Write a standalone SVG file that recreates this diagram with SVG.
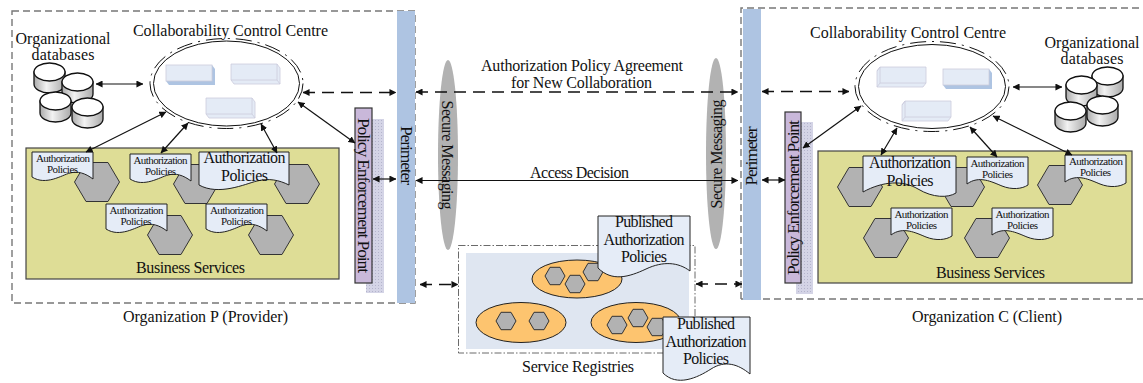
<svg xmlns="http://www.w3.org/2000/svg" xmlns:xlink="http://www.w3.org/1999/xlink" width="1143" height="383" viewBox="0 0 1143 383">
<style>
text{font-family:"Liberation Serif","Times New Roman",serif;fill:#111;text-anchor:middle}
.t15{font-size:16px}.t14{font-size:16px}.t17{font-size:16px}.v{font-size:17.500px}.t10{font-size:11px}
.org{fill:none;stroke:#777;stroke-width:1.4;stroke-dasharray:7 4}
.per{fill:#aec4e2}
.biz{fill:#dedd96;stroke:#444;stroke-width:1.200}
.hex{fill:#b2b2b2;stroke:#333;stroke-width:1}
.doc{fill:#e5ecf7;stroke:#222;stroke-width:1}
.pep{fill:#c9b8da;stroke:#333;stroke-width:1.200}
.sec{fill:#b2b2b2}
.cc{fill:#fff;stroke:#111;stroke-width:1}
.ccd{fill:none;stroke:#111;stroke-width:1;stroke-dasharray:16 6 2 6}
.orange{fill:#fdc46f;stroke:#222;stroke-width:1}
.a{fill:none;stroke:#111;stroke-width:1.200;marker-start:url(#ah);marker-end:url(#ah)}
.d{stroke-dasharray:12 7;stroke-width:1.400}
.cyl{fill:url(#cg);stroke:#111;stroke-width:1.300}
.top{fill:#fff;stroke:#111;stroke-width:1.300}
</style>
<defs>
<marker id="ah" viewBox="0 0 8 8" refX="7.500" refY="4" markerWidth="7" markerHeight="7" orient="auto-start-reverse" markerUnits="userSpaceOnUse"><path d="M0 0L8 4L0 8Z" fill="#111"/></marker>
<linearGradient id="cg" x1="0" x2="1" y1="0" y2="0"><stop offset="0" stop-color="#aaa"/><stop offset=".4" stop-color="#f2f2f2"/><stop offset="1" stop-color="#aaa"/></linearGradient>
<pattern id="dots" width="3" height="3" patternUnits="userSpaceOnUse"><rect width="3" height="3" fill="#d4d4e6"/><rect width="1" height="1" fill="#b4b4cc"/></pattern>
<polygon id="hex" class="hex" points="-22.500,0 -11,-19.500 11,-19.500 22.500,0 11,19.500 -11,19.500"/>
<polygon id="hexs" class="hex" points="-10,0 -5,-8.700 5,-8.700 10,0 5,8.700 -5,8.700"/>
<path id="docS" class="doc" d="M0 0H61V27C53 21 46 19 38 21S14 34 0 25Z"/>
<path id="docM" class="doc" d="M0 0H61V28C55 32 45 33 35 29S12 18 0 27Z"/>
<path id="docL" class="doc" d="M0 0H90V33C80 28 70 26 58 29S20 44 0 33Z"/>
<path id="docP" class="doc" d="M0 0H92V55C80 46 65 45 48 53S14 66 0 52Z"/>
<g id="cyl"><path class="cyl" d="M0 9V21C0 26 7 30 15.500 30S31 26 31 21V9Z"/><ellipse class="top" cx="15.500" cy="9" rx="15.500" ry="9"/></g>
<g id="boxR"><path d="M0 0H46L49 4V20H3L0 16Z" fill="#aec4e2"/><rect width="46" height="16" fill="#e4ebf6" stroke="#ccd" stroke-width=".8"/></g>
<g id="boxG"><path d="M0 0H46L49 4V20H3L0 16Z" fill="#e4ebf6" stroke="#ccd" stroke-width=".8"/><path d="M0 16H46V0M46 16L49 20" fill="none" stroke="#ccd" stroke-width=".8"/></g>
<g id="boxL"><path d="M3 0H49V16L46 20H0V4Z" fill="#e4ebf6" stroke="#ccd" stroke-width=".8"/><path d="M0 4L3 0V16H49M3 16L0 20" fill="none" stroke="#ccd" stroke-width=".8"/></g>
</defs>

<g id="org-provider">
<rect class="org" x="12" y="11" width="403" height="292"/>
<text class="t15" x="205.500" y="322" textLength="165">Organization P (Provider)</text>
</g>
<g id="org-client">
<path class="org" d="M741 299V8H1143M741 299H1143"/>
<text class="t15" x="987" y="322" textLength="150">Organization C (Client)</text>
</g>
<g id="perimeter-left">
<rect class="per" x="397" y="11" width="18" height="292"/>
<text class="v" transform="translate(401 155.500) rotate(90)" textLength="59">Perimeter</text>
</g>
<g id="perimeter-right">
<rect class="per" x="743" y="9" width="18" height="291"/>
<text class="v" transform="translate(757 156) rotate(-90)" textLength="59">Perimeter</text>
</g>
<g id="pep-left">
<rect x="366" y="119" width="18" height="174" fill="url(#dots)"/>
<rect class="pep" x="355" y="108" width="17" height="175"/>
<text class="v" transform="translate(358 195.500) rotate(90)" textLength="155">Policy Enforcement Point</text>
</g>
<g id="pep-right">
<rect x="796" y="122" width="17" height="172" fill="url(#dots)"/>
<rect class="pep" x="785" y="112" width="16" height="171"/>
<text class="v" transform="translate(799 197.500) rotate(-90)" textLength="155">Policy Enforcement Point</text>
</g>
<g id="secure-left">
<ellipse class="sec" cx="448" cy="155" rx="10" ry="95"/>
<text class="t15" transform="translate(442 155) rotate(90)" textLength="109">Secure Messaging</text>
</g>
<g id="secure-right">
<ellipse class="sec" cx="716" cy="153.500" rx="10" ry="95.500"/>
<text class="t15" transform="translate(722 154) rotate(-90)" textLength="109">Secure Messaging</text>
</g>

<g id="databases-left">
<use href="#cyl" x="34" y="63"/><use href="#cyl" x="62" y="73"/><use href="#cyl" x="40" y="92"/><use href="#cyl" x="72" y="98"/>
<text class="t15" x="63" y="44" textLength="95">Organizational</text>
<text class="t15" x="63" y="60" textLength="63">databases</text>
</g>
<g id="databases-right">
<use href="#cyl" x="1092" y="67"/><use href="#cyl" x="1066" y="76"/><use href="#cyl" x="1087" y="96"/><use href="#cyl" x="1055" y="102"/>
<text class="t15" x="1092" y="48" textLength="95">Organizational</text>
<text class="t15" x="1092" y="64" textLength="63">databases</text>
</g>
<g id="ccc-left">
<ellipse class="ccd" cx="226.500" cy="83.500" rx="76.500" ry="45"/>
<ellipse class="cc" cx="226.500" cy="83.500" rx="73" ry="42.500"/>
<use href="#boxR" x="166" y="65"/><use href="#boxG" x="231" y="64"/><use href="#boxG" x="206" y="98"/>
<text class="t15" x="230.500" y="36" textLength="195">Collaborability Control Centre</text>
</g>
<g id="ccc-right">
<ellipse class="ccd" cx="932" cy="86.500" rx="77" ry="45"/>
<ellipse class="cc" cx="932" cy="86.500" rx="73.500" ry="42"/>
<use href="#boxL" x="877" y="67"/><use href="#boxR" x="943" y="69"/><use href="#boxL" x="902" y="101"/>
<text class="t15" x="908" y="38" textLength="196">Collaborability Control Centre</text>
</g>

<g id="business-left">
<rect class="biz" x="26" y="148" width="313" height="131"/>
<use href="#hex" x="97" y="182"/><use href="#hex" x="196" y="184"/><use href="#hex" x="297" y="184"/><use href="#hex" x="170" y="235"/><use href="#hex" x="271" y="235"/>
<use href="#docS" x="32" y="152"/><use href="#docS" x="130" y="154"/><use href="#docL" x="199" y="152"/><use href="#docS" x="106" y="204"/><use href="#docS" x="206" y="204"/>
<g class="t10">
<text x="63" y="162" textLength="54">Authorization</text><text x="62.500" y="173" textLength="31">Policies</text>
<text x="160.500" y="164" textLength="54">Authorization</text><text x="160.500" y="175" textLength="31">Policies</text>
<text x="136.500" y="214" textLength="54">Authorization</text><text x="136" y="225" textLength="31">Policies</text>
<text x="237" y="214" textLength="54">Authorization</text><text x="236.500" y="225" textLength="31">Policies</text>
</g>
<text class="t17" x="244.500" y="163" textLength="82">Authorization</text><text class="t17" x="244.500" y="181" textLength="47">Policies</text>
<text class="t14" x="190.500" y="273" textLength="109">Business Services</text>
</g>
<g id="business-right">
<rect class="biz" x="818" y="151" width="314" height="132"/>
<use href="#hex" x="860" y="187"/><use href="#hex" x="962" y="187"/><use href="#hex" x="1060" y="185"/><use href="#hex" x="886" y="238"/><use href="#hex" x="987" y="238"/>
<path class="doc" transform="translate(863 156)" d="M0 0H93V37C85 42 70 42 55 33S20 25 0 36Z"/>
<use href="#docM" x="967" y="157"/><use href="#docM" x="1065" y="155"/><use href="#docM" x="891" y="208"/><use href="#docM" x="992" y="208"/>
<g class="t10">
<text x="997.500" y="167" textLength="54">Authorization</text><text x="997.500" y="178" textLength="31">Policies</text>
<text x="1096" y="165" textLength="54">Authorization</text><text x="1095.500" y="176" textLength="31">Policies</text>
<text x="921.500" y="218" textLength="54">Authorization</text><text x="921.500" y="229" textLength="31">Policies</text>
<text x="1022.500" y="218" textLength="54">Authorization</text><text x="1022.500" y="229" textLength="31">Policies</text>
</g>
<text class="t17" x="910" y="168" textLength="82">Authorization</text><text class="t17" x="910" y="186" textLength="47">Policies</text>
<text class="t14" x="990.500" y="278" textLength="109">Business Services</text>
</g>

<g id="service-registries">
<rect x="466" y="253" width="223" height="96" fill="#dfe6f1"/>
<rect x="458.500" y="245.500" width="236.500" height="107.500" fill="none" stroke="#444" stroke-width=".8" stroke-dasharray="7 2 1.500 2"/>
<ellipse class="orange" cx="577" cy="279" rx="45" ry="19"/><ellipse class="orange" cx="521" cy="322.500" rx="45" ry="20"/><ellipse class="orange" cx="636" cy="322.500" rx="45" ry="20"/>
<use href="#hexs" x="555" y="276"/><use href="#hexs" x="593" y="272"/><use href="#hexs" x="575" y="284"/><use href="#hexs" x="506" y="321"/><use href="#hexs" x="539" y="321"/><use href="#hexs" x="617" y="325"/><use href="#hexs" x="638" y="318"/><use href="#hexs" x="657" y="327"/>
<text class="t14" x="578" y="372" textLength="112">Service Registries</text>
</g>
<g id="published-1">
<use href="#docP" x="598" y="216"/>
<text class="t14" x="644" y="227" textLength="58">Published</text><text class="t14" x="644" y="245" textLength="81">Authorization</text><text class="t14" x="644" y="262" textLength="46">Policies</text>
</g>
<g id="published-2">
<path class="doc" transform="translate(663 317)" d="M0 0H87V57C75 47 62 43 48 52S14 70 0 56Z"/>
<text class="t14" x="706" y="329" textLength="58">Published</text><text class="t14" x="706" y="347" textLength="81">Authorization</text><text class="t14" x="706" y="364" textLength="46">Policies</text>
</g>

<g id="center-labels">
<text class="t15" x="582" y="71" textLength="202">Authorization Policy Agreement</text>
<text class="t15" x="581.500" y="88" textLength="141">for New Collaboration</text>
<text class="t15" x="579.500" y="178" textLength="99">Access Decision</text>
</g>

<g id="connectors">
<path class="a" d="M96 84H143"/>
<path class="a" d="M86 152L166 112"/>
<path class="a" d="M161 153L188 123"/>
<path class="a" d="M277 153L261 124"/>
<path class="a" d="M355 143L298 102"/>
<path class="a" d="M1013 87H1062"/>
<path class="a" d="M803 148L861 106"/>
<path class="a" d="M881 155L897 128"/>
<path class="a" d="M997 157L970 127"/>
<path class="a" d="M1072 155L993 116"/>
<path class="a d" d="M303 92.500H396"/>
<path class="a d" d="M416 92H738"/>
<path class="a d" d="M762 91.500H849"/>
<path class="a" d="M416 180.500H738"/>
<path class="a" d="M373 179H396"/>
<path class="a" d="M762 180H785"/>
<path class="a d" d="M420 284.500H458"/>
<path class="a d" d="M696 284H742"/>
</g>
</svg>
